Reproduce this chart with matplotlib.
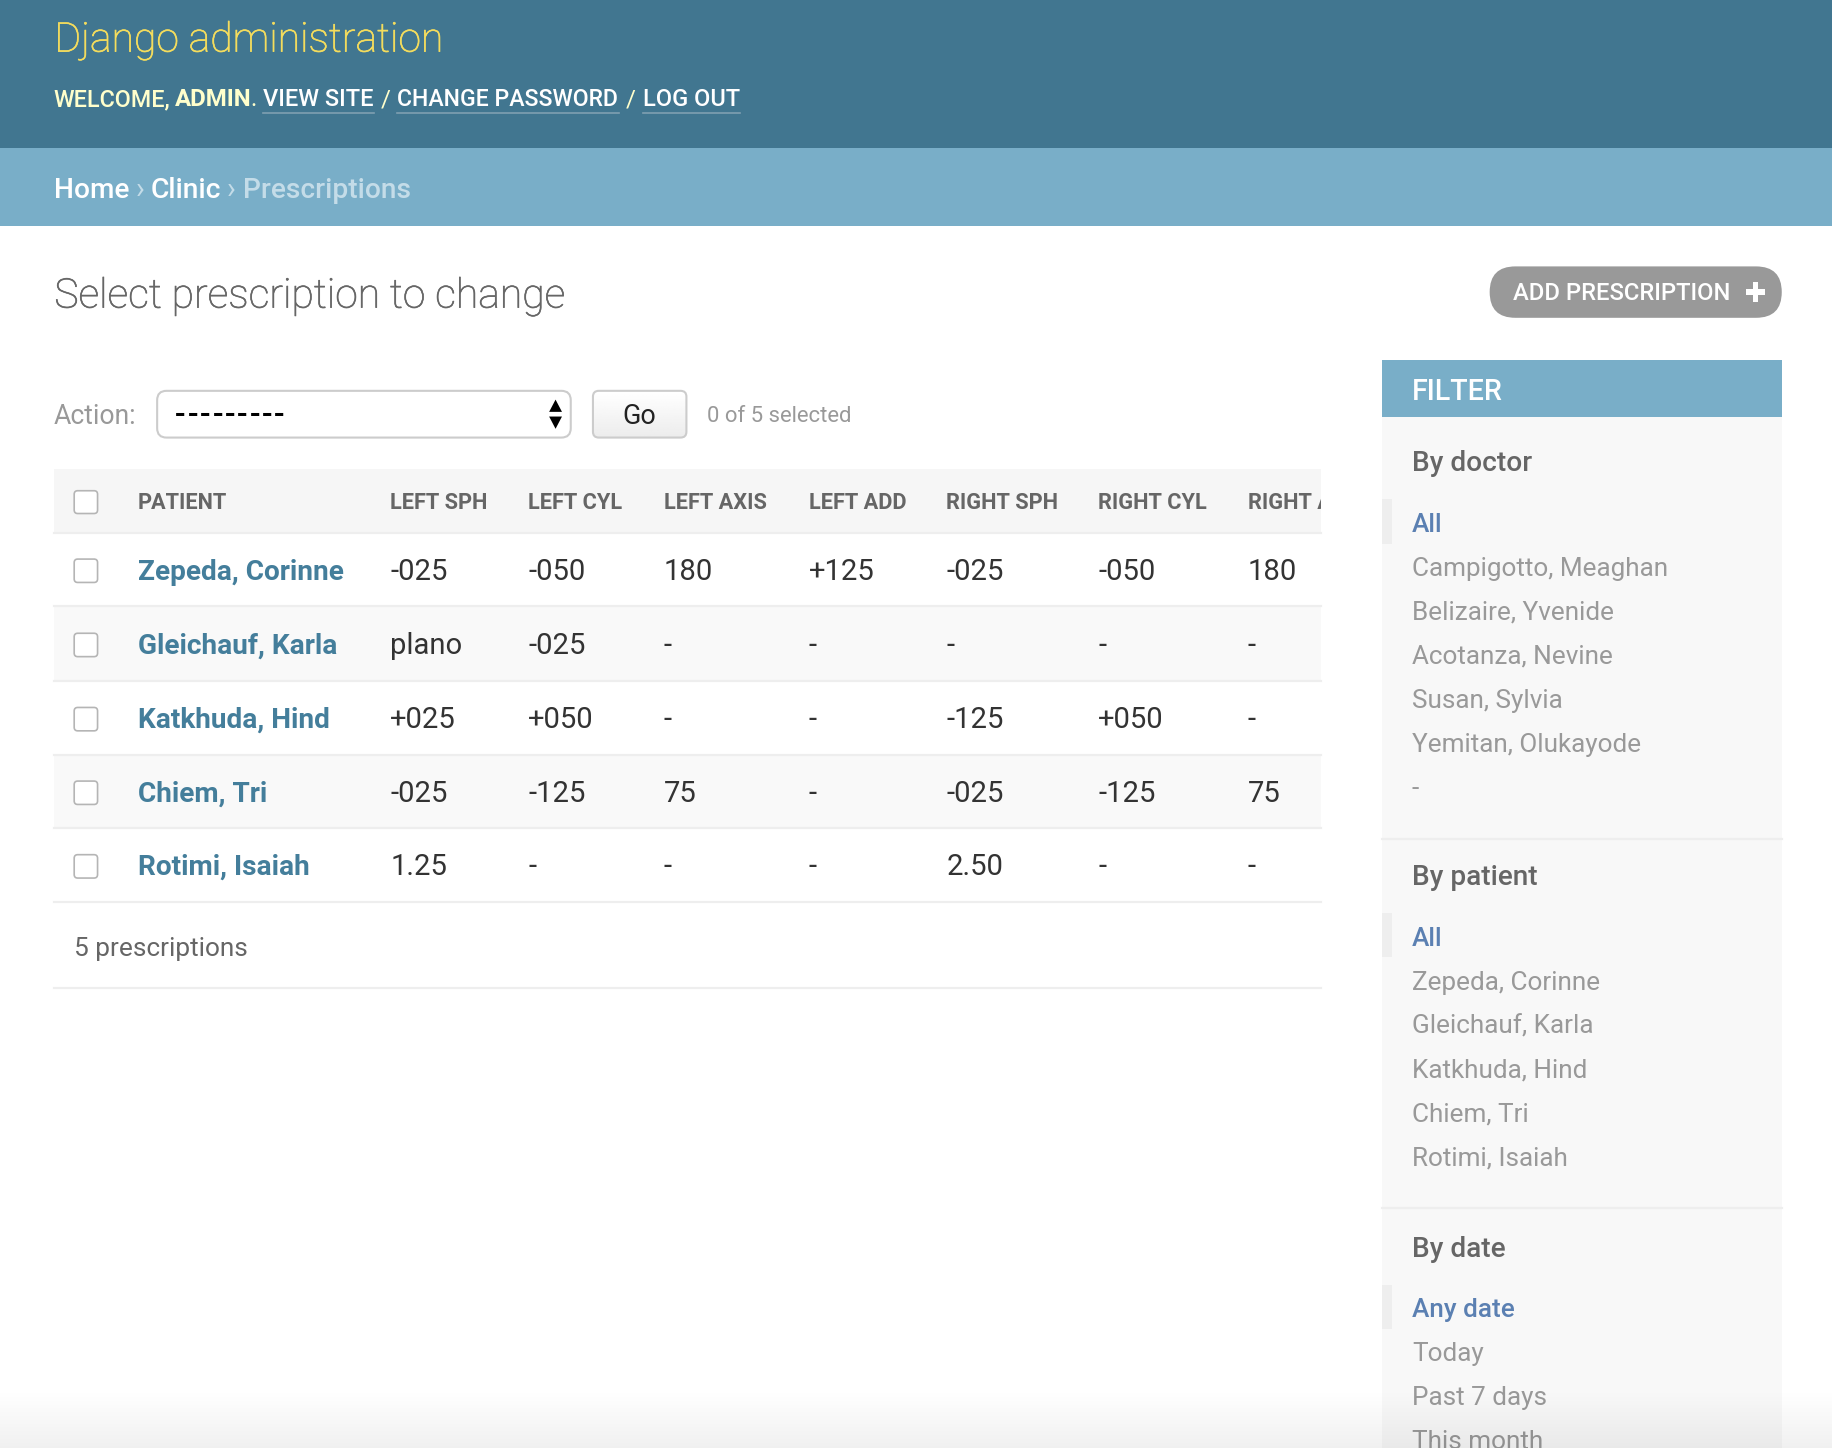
import matplotlib
matplotlib.use('Agg')
import matplotlib.pyplot as plt
import matplotlib.patheffects as pe
import numpy as np
from matplotlib.patches import Rectangle, FancyBboxPatch, Polygon

plt.rcParams['font.family'] = ['Roboto', 'DejaVu Sans']

# page text and table values
columns = ['PATIENT', 'LEFT SPH', 'LEFT CYL', 'LEFT AXIS', 'LEFT ADD', 'RIGHT SPH', 'RIGHT CYL', 'RIGHT AXIS']
patients = ['Zepeda, Corinne', 'Gleichauf, Karla', 'Katkhuda, Hind', 'Chiem, Tri', 'Rotimi, Isaiah']
left_sph = ['-025', 'plano', '+025', '-025', '1.25']
left_cyl = ['-050', '-025', '+050', '-125', '-']
left_axis = ['180', '-', '-', '75', '-']
left_add = ['+125', '-', '-', '-', '-']
right_sph = ['-025', '-', '-125', '-025', '2.50']
right_cyl = ['-050', '-', '+050', '-125', '-']
right_axis = ['180', '-', '-', '75', '-']

doctors = ['All', 'Campigotto, Meaghan', 'Belizaire, Yvenide', 'Acotanza, Nevine', 'Susan, Sylvia', 'Yemitan, Olukayode', '-']
patient_filter = ['All', 'Zepeda, Corinne', 'Gleichauf, Karla', 'Katkhuda, Hind', 'Chiem, Tri', 'Rotimi, Isaiah']
dates = ['Any date', 'Today', 'Past 7 days', 'This month']

# layout is in the 1568 wide view of the page
W, H = 1568, 1239.3
S = 1832 / W
col_x = [118, 334, 452, 568, 692, 810, 940, 1068]
row_lines = [456, 519, 583, 646, 709, 772]

fig = plt.figure(figsize=(18.32, 14.48), dpi=100)
ax = fig.add_axes([0, 0, 1, 1])
ax.set_xlim(0, W)
ax.set_ylim(H, 0)
ax.axis('off')


def txt(x, y, s, size, color, weight='normal', **kw):
    # size is px in the 1568 view, y is the baseline
    return ax.text(x, y, s, fontsize=size * S * 0.72, color=color, fontweight=weight,
                   va='baseline', **kw)


def box(x0, y0, x1, y1, color, z=1):
    ax.add_patch(Rectangle((x0, y0), x1 - x0, y1 - y0, fc=color, ec='none', zorder=z))


def rbox(x0, y0, x1, y1, r, fc, ec='none', lw=1.0, z=2):
    p = FancyBboxPatch((x0 + r, y0 + r), x1 - x0 - 2 * r, y1 - y0 - 2 * r,
                       boxstyle='round,pad=%f,rounding_size=%f' % (r, r),
                       fc=fc, ec=ec, lw=lw, zorder=z)
    ax.add_patch(p)
    return p


def thicken(t, color, w=0.45):
    # light weight renders too thin here
    t.set_path_effects([pe.withStroke(linewidth=w, foreground=color)])


# header
box(0, 0, W, 127, '#417690')
box(0, 127, W, 193, '#79aec8')
thicken(txt(46.5, 44.2, 'Django administration', 35, '#f5dd5d', 'light'), '#f5dd5d')

txt(46, 91, 'WELCOME,', 20, '#ffffcc', 'medium')
txt(150, 91, 'ADMIN', 20.5, '#ffffcc', 'bold')
txt(214, 91, '.', 20.5, '#ffffcc')
for s, x0, x1, fs in [('VIEW SITE', 225, 320, 20.2), ('CHANGE PASSWORD', 340, 530, 19.7), ('LOG OUT', 550, 633, 20.2)]:
    txt(x0, 91, s, fs, 'white', 'medium')
    ax.plot([x0, x1], [96.5, 96.5], color='#7f9fb1', lw=1.2, zorder=3)
txt(326, 91, '/', 20.5, '#ffffcc')
txt(536, 91, '/', 20.5, '#ffffcc')

# breadcrumbs
txt(46.5, 169.3, 'Home', 24, 'white', 'medium')
txt(116, 169.3, '›', 25, '#c4dce8')
txt(129, 169.3, 'Clinic', 24.2, 'white', 'medium')
txt(194, 169.3, '›', 25, '#c4dce8')
txt(208, 169.3, 'Prescriptions', 24.1, '#c4dce8', 'medium')

thicken(txt(46.5, 263.3, 'Select prescription to change', 35, '#666666', 'light'), '#666666')

# add button
rbox(1275, 228, 1525, 272, 22, '#999999')
txt(1295, 257, 'ADD PRESCRIPTION', 20.3, 'white', 'medium')
box(1494, 247.5, 1511, 252.5, 'white', 3)
box(1500, 241.5, 1505, 258.5, 'white', 3)

# action bar
txt(46, 363, 'Action:', 22.7, '#999999')
rbox(134.5, 334.5, 488.5, 374.5, 8, 'white', '#cccccc', 1.5)
for k in range(9):
    txt(150 + k * 10.6, 363, '-', 27, 'black', 'medium')
ax.add_patch(Polygon([[470, 352.5], [481, 352.5], [475.5, 342]], fc='black', ec='none', zorder=3))
ax.add_patch(Polygon([[470, 356.5], [481, 356.5], [475.5, 367]], fc='black', ec='none', zorder=3))
go = rbox(507.5, 334.5, 587.5, 374.5, 5, 'none', '#cccccc', 1.5, z=4)
shade = np.linspace(1.0, 0.925, 40)[:, None]
im = ax.imshow(shade, cmap='gray', vmin=0, vmax=1, extent=(507.5, 587.5, 374.5, 334.5),
               aspect='auto', origin='upper', zorder=3)
im.set_clip_path(go)
txt(547.5, 363, 'Go', 23, '#222222', ha='center', zorder=5)
txt(605, 361, '0 of 5 selected', 18.9, '#999999')

# table
box(46, 401, 1131, 456, '#f6f6f6')
box(46, 519, 1131, 583, '#f9f9f9')
box(46, 646, 1131, 709, '#f9f9f9')
clip = Rectangle((46, 401), 1085, 60, transform=ax.transData)
for name, x in zip(columns, col_x):
    t = txt(x, 436, name, 18.6, '#666666', 'bold')
    t.set_clip_on(True)
    t.set_clip_path(clip)
for y in row_lines:
    ax.plot([46, 1131], [y, y], color='#eeeeee', lw=1.6, zorder=2)
ax.plot([46, 1131], [846, 846], color='#eeeeee', lw=1.6, zorder=2)

rows = list(zip(patients, left_sph, left_cyl, left_axis, left_add, right_sph, right_cyl, right_axis))
rbox(63.5, 420, 83.5, 439.5, 3, 'white', '#b5b5b5', 1.2)
for i, row in enumerate(rows):
    mid = (row_lines[i] + row_lines[i + 1]) / 2
    rbox(63.5, mid - 9, 83.5, mid + 11, 3, 'white', '#b5b5b5', 1.2)
    txt(col_x[0], mid + 8.5, row[0], 24, '#447e9b', 'bold')
    for x, v in zip(col_x[1:], row[1:]):
        txt(x, mid + 8.5, v, 25, '#333333')
txt(63.5, 818, '5 prescriptions', 22.5, '#666666')

# filter panel
box(1183, 357, 1525, H, '#f8f8f8')
box(1183, 308, 1525, 357, '#79aec8')
txt(1208.5, 342, 'FILTER', 24.5, 'white', 'medium')


def filter_group(title, items, y_title):
    txt(1208.5, y_title, title, 24, '#666666', 'medium')
    y0 = y_title + 52
    box(1183, y0 - 28, 1191, y0 + 10, '#eeeeee')
    for k, s in enumerate(items):
        c = '#5b80b2' if k == 0 else '#999999'
        txt(1208.5, y0 + k * 37.6, s, 22.4, c, 'medium' if k == 0 else 'normal')


filter_group('By doctor', doctors, 403.3)
ax.plot([1183, 1525], [718, 718], color='#eeeeee', lw=1.6, zorder=2)
filter_group('By patient', patient_filter, 757.3)
ax.plot([1183, 1525], [1034, 1034], color='#eeeeee', lw=1.6, zorder=2)
filter_group('By date', dates, 1075.5)

# fade at the bottom of the page
grad = np.zeros((64, 2, 4))
grad[..., 3] = np.linspace(0, 0.06, 64)[:, None]
ax.imshow(grad, extent=(0, W, H, H - 50), aspect='auto', zorder=10, origin='upper')
ax.set_xlim(0, W)
ax.set_ylim(H, 0)

fig.savefig('out.png', dpi=100)
